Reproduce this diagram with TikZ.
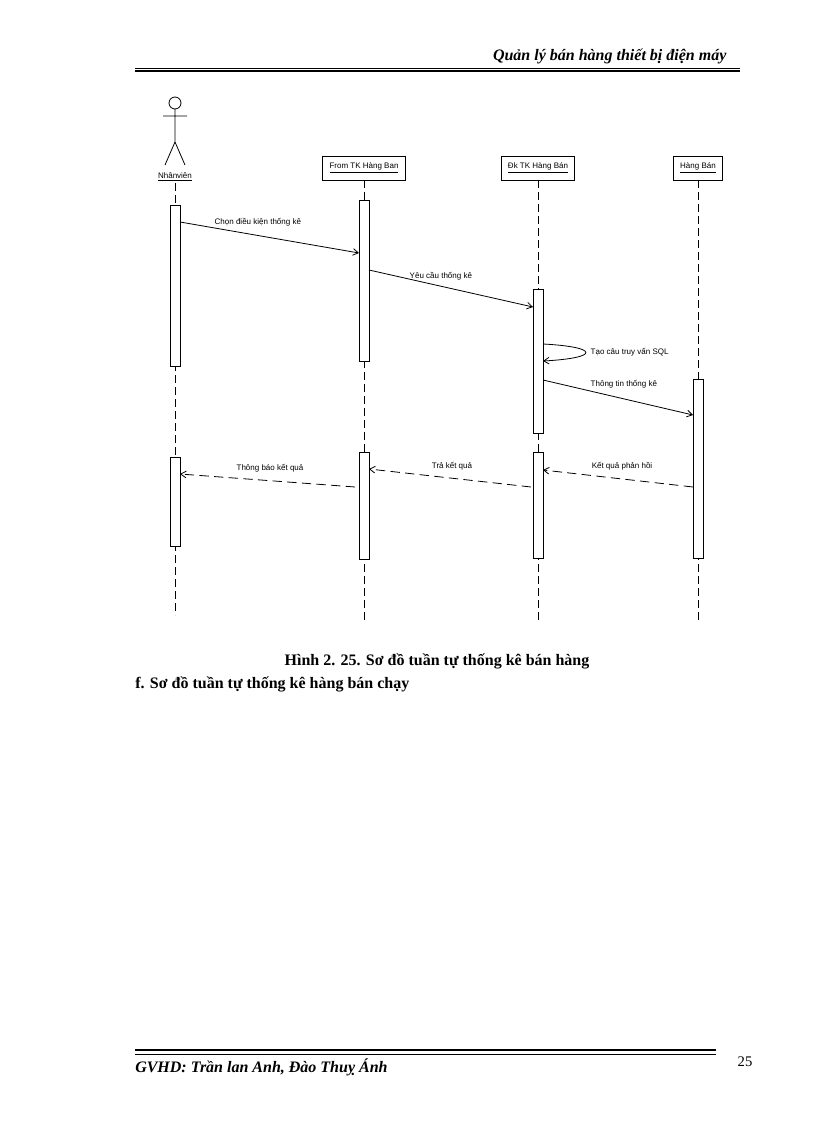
\documentclass[tikz,border=0pt]{standalone}
\usepackage{fontspec}
\setmainfont{Liberation Serif}
\newfontfamily\dsans{Liberation Sans}
\usetikzlibrary{arrows.meta}
\begin{document}
\begin{tikzpicture}[x=0.75pt,y=-0.75pt,
 lbl/.style={font=\dsans\fontsize{6}{7}\selectfont},
 obj/.style={draw,semithick,minimum height=18pt,inner xsep=5pt,font=\dsans\fontsize{6}{7}\selectfont},
 act/.style={draw,semithick,fill=white},
 life/.style={semithick,dash pattern=on 6pt off 3pt},
 msg/.style={semithick,-{Straight Barb[length=4pt,width=5pt]}},
 ret/.style={msg,dash pattern=on 7pt off 4pt}]
\useasboundingbox (0,0) rectangle (816,1123);
% header/footer
\node[anchor=south east,font=\bfseries\itshape\fontsize{12}{14}\selectfont,inner sep=1pt] (hdr) at (728,66) {Quản lý bán hàng thiết bị điện máy};
\draw[thin] (135,68) -- (740,68);
\draw[line width=1.5pt] (135,71) -- (740,71);
\draw[line width=1.5pt] (135,1050) -- (716,1050);
\draw[thin] (135,1054) -- (716,1054);
\node[anchor=west,font=\bfseries\itshape\fontsize{12}{14}\selectfont,inner sep=0pt] (ftr) at (135,1067) {GVHD: Trần lan Anh, Đào Thuỵ Ánh};
\node[font=\fontsize{11}{13}\selectfont,inner sep=0pt] (pg) at (745,1062) {25};
\node[font=\bfseries\fontsize{12}{14}\selectfont,inner sep=0pt] (cap) at (437,661) {Hình 2. 25. Sơ đồ tuần tự thống kê bán hàng};
\node[anchor=west,font=\bfseries\fontsize{12}{14}\selectfont,inner sep=0pt] (sec) at (135,684) {f. Sơ đồ tuần tự thống kê hàng bán chạy};
% actor
\draw[semithick] (175,103) circle (6);
\draw[semithick] (175,109) -- (175,142) (163,116) -- (187,116) (175,142) -- (165,165) (175,142) -- (185,165);
\node[lbl] (nv) at (175,177) {\underline{Nhânviên}};
% objects
\node[obj] (o1) at (364,168) {\underline{From TK Hàng Ban}};
\node[obj] (o2) at (538,168) {\underline{Đk TK Hàng Bán}};
\node[obj] (o3) at (698,168) {\underline{Hàng Bán}};
% lifelines
\draw[life] (175,183) -- (175,615);
\draw[life] (o1.south) -- (364,620);
\draw[life] (o2.south) -- (538,620);
\draw[life] (o3.south) -- (698,620);
% activations
\draw[act] (170,205) rectangle (180,366);
\draw[act] (170,457) rectangle (180,546);
\draw[act] (359,200) rectangle (369,361);
\draw[act] (359,452) rectangle (369,559);
\draw[act] (533,289) rectangle (543,433);
\draw[act] (533,452) rectangle (543,558);
\draw[act] (693,379) rectangle (703,558);
% messages
\coordinate (a1) at (180,222); \coordinate (b1) at (359,253);
\draw[msg] (a1) -- (b1);
\node[lbl,anchor=west] at (210,222) {Chọn điều kiện thống kê};
\coordinate (a2) at (369,270); \coordinate (b2) at (533,307);
\draw[msg] (a2) -- (b2);
\node[lbl,anchor=west] at (405,276) {Yêu cầu thống kê};
\coordinate (a3) at (543,344); \coordinate (b3) at (543,361);
\draw[msg] (a3) .. controls (600,347) and (600,358) .. (b3);
\node[lbl,anchor=west] at (586,352) {Tạo câu truy vấn SQL};
\coordinate (a4) at (543,380); \coordinate (b4) at (693,415);
\draw[msg] (a4) -- (b4);
\node[lbl,anchor=west] at (586,384) {Thông tin thống kê};
\coordinate (a5) at (693,487); \coordinate (b5) at (543,470);
\draw[ret] (a5) -- (b5);
\node[lbl] at (622,466) {Kết quả phản hồi};
\coordinate (a6) at (531,487); \coordinate (b6) at (369,469);
\draw[ret] (a6) -- (b6);
\node[lbl] at (452,466) {Trả kết quả};
\coordinate (a7) at (355,487); \coordinate (b7) at (180,474);
\draw[ret] (a7) -- (b7);
\node[lbl] at (270,468) {Thông báo kết quả};
\end{tikzpicture}
\end{document}
